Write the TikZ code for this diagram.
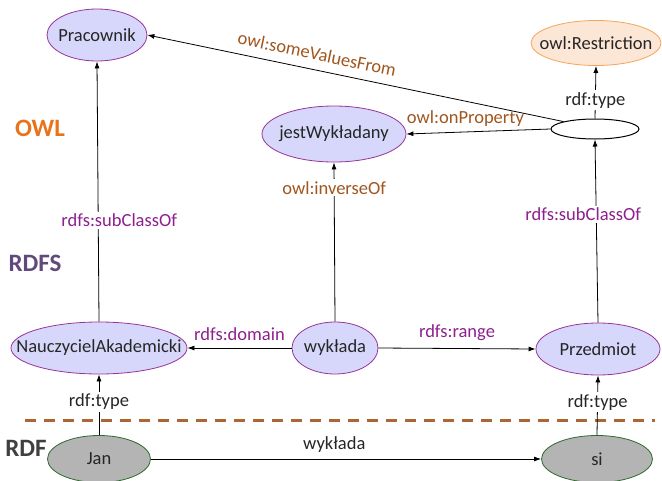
\documentclass[tikz,border=0pt]{standalone}
\usepackage{fontspec}
\setmainfont{Carlito}
\usetikzlibrary{arrows.meta, positioning, shapes.geometric}
\definecolor{Lav}{HTML}{D7D7FC}
\definecolor{LavEdge}{HTML}{993399}
\definecolor{Grey}{HTML}{B4B4B4}
\definecolor{GreyEdge}{HTML}{2D6A2D}
\definecolor{Peach}{HTML}{FCE6D6}
\definecolor{PeachEdge}{HTML}{F5A55A}
\definecolor{Plum}{HTML}{8E1F8E}
\definecolor{Brown}{HTML}{A0561E}
\definecolor{Orange}{HTML}{E8731A}
\definecolor{Slate}{HTML}{604A7B}
\definecolor{Ink}{HTML}{262626}

\begin{document}
\begin{tikzpicture}[x=1pt, y=-1pt,
      font=\fontsize{18.5}{20}\selectfont, text=Ink,
      oval/.style={ellipse, line width=0.8pt, inner xsep=-60pt, inner ysep=0pt},
      cls/.style={oval, draw=LavEdge, fill=Lav, minimum height=52pt},
      inst/.style={oval, draw=GreyEdge, fill=Grey, minimum height=47pt},
      restr/.style={oval, draw=PeachEdge, fill=Peach, minimum height=45pt},
      layer/.style={font=\fontsize{25}{27}\selectfont\bfseries},
      rdfs/.style={text=Plum, inner sep=2pt},
      owl/.style={text=Brown, inner sep=2pt},
      plain/.style={text=Ink, fill=white, inner sep=2pt},
      ar/.style={-{Latex[length=7pt, width=5pt]}, line width=0.8pt, black}]

    \useasboundingbox (0,0) rectangle (662,480);

    % layers
    \node[layer, text=Orange] (owlL) at (40,128) {OWL};
    \node[layer, text=Slate] (rdfsL) at (35,263) {RDFS};
    \node[layer, text=black!75] (rdfL) at (26,448) {RDF};
    \coordinate (sepA) at (25,420);
    \coordinate (sepB) at (655,420);
    \draw[color=Brown!90, line width=3pt, dash pattern=on 11pt off 8pt] (sepA) -- (sepB);

    % nodes
    \node[cls, minimum width=100pt] (prac) at (97,35) {Pracownik};
    \node[restr, minimum width=130pt] (restr) at (596,43) {owl:Restriction};
    \node[cls, minimum width=144pt, minimum height=56pt] (jest) at (334,134) {jestWykładany};
    \node[ellipse, draw=black, fill=white, line width=1pt, minimum width=88pt, minimum height=20pt, inner sep=0pt] (anon) at (595,129) {};
    \node[cls, minimum width=176pt] (nauk) at (99,348) {NauczycielAkademicki};
    \node[cls, minimum width=86pt] (wyk) at (335,348) {wykłada};
    \node[cls, minimum width=124pt] (przed) at (598,349) {Przedmiot};
    \node[inst, minimum width=103pt] (jan) at (99,459) {Jan};
    \node[inst, minimum width=111pt] (si) at (597,459) {si};

    % connectors
    \draw[ar] (anon.north west) -- node[owl, pos=0.6, above=7pt, sloped] {owl:someValuesFrom} (prac.east);
    \draw[ar] (anon.west) -- node[owl, above=3pt, pos=0.59] {owl:onProperty} (jest.east);
    \draw[ar] (anon.north) -- node[plain, pos=0.35] {rdf:type} (restr.south);
    \draw[ar] (nauk.north) -- node[rdfs, fill=white, pos=0.39, xshift=21pt] {rdfs:subClassOf} (prac.south);
    \draw[ar] (wyk.north) -- node[owl, fill=white, pos=0.84] {owl:inverseOf} (jest.south);
    \draw[ar] (przed.north) -- node[rdfs, fill=white, pos=0.59, xshift=-13pt] {rdfs:subClassOf} (anon.south);
    \draw[ar] (wyk.west) -- node[rdfs, above=5pt] {rdfs:domain} (nauk.east);
    \draw[ar] (wyk.east) -- node[rdfs, above=5pt] {rdfs:range} (przed.west);
    \draw[ar] (jan.north) -- node[plain, pos=0.55] {rdf:type} (nauk.south);
    \draw[ar] (si.north) -- node[plain, pos=0.55] {rdf:type} (przed.south);
    \draw[ar] (jan.east) -- node[plain, above=4pt, pos=0.47] {wykłada} (si.west);
  \end{tikzpicture}
\end{document}
